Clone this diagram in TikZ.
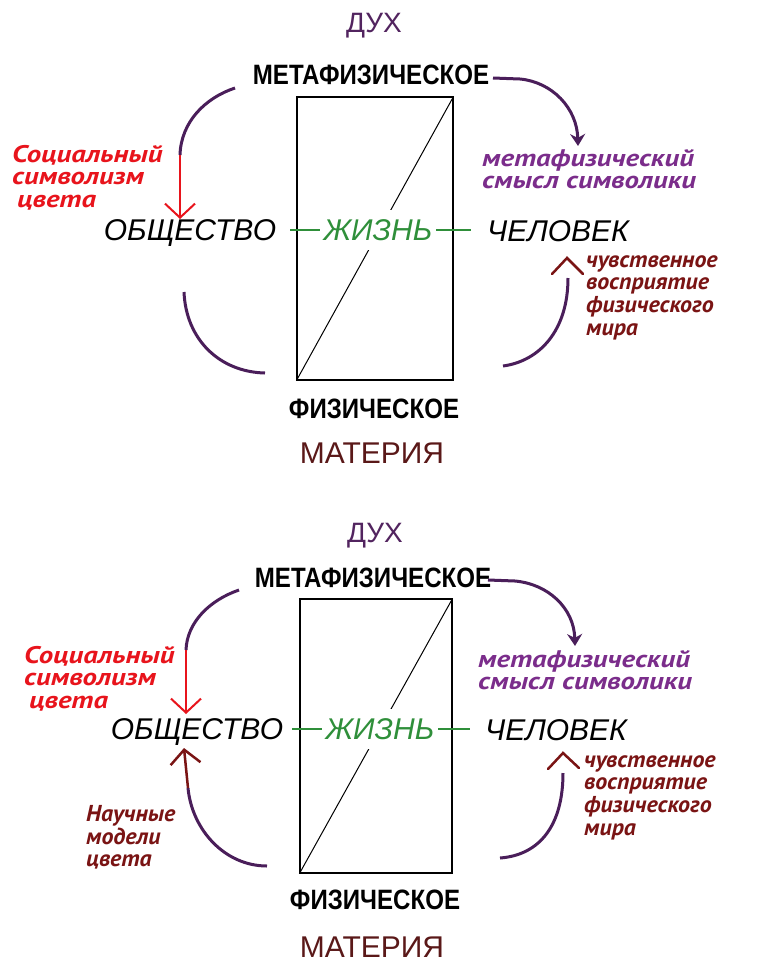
\documentclass[tikz,border=0pt]{standalone}
\usepackage{fontspec}
\setmainfont{Liberation Sans}
\newfontfamily\narrowfont[FakeStretch=0.86]{Liberation Sans}
\newfontfamily\wideitfont[FakeStretch=1.2]{PT Sans}
\newfontfamily\midtfont[FakeStretch=1.04]{PT Sans}
\usetikzlibrary{arrows.meta}
\definecolor{arcpurple}{HTML}{4A1E5A}
\definecolor{duhpurple}{HTML}{52245F}
\definecolor{metapurple}{HTML}{7B2D8B}
\definecolor{socred}{HTML}{E8141C}
\definecolor{darkred}{HTML}{7A1414}
\definecolor{matred}{HTML}{5A1818}
\definecolor{lifegreen}{HTML}{2F8F3A}
\tikzset{
  polelabel/.style={font=\narrowfont\bfseries\fontsize{28}{30}\selectfont, inner sep=0pt},
  duhlabel/.style={font=\fontsize{28}{30}\selectfont, text=duhpurple, inner sep=0pt},
  matlabel/.style={font=\fontsize{30}{32}\selectfont, text=matred, inner sep=0pt},
  bigit/.style={font=\itshape\fontsize{30}{32}\selectfont, inner sep=0pt},
  lifelabel/.style={font=\itshape\fontsize{30}{32}\selectfont, text=lifegreen, fill=white, inner xsep=4pt, minimum height=40pt},
  smalllab/.style={font=\wideitfont\bfseries\itshape\fontsize{24}{22.5}\selectfont, align=left, inner sep=0pt, anchor=north west},
  midlab/.style={font=\midtfont\bfseries\itshape\fontsize{23}{22.8}\selectfont, align=left, inner sep=0pt, anchor=north west},
  boxnode/.style={draw=black, line width=1.2pt},
  diagline/.style={draw=black, line width=1pt},
  greenline/.style={draw=lifegreen, line width=1.5pt},
  arcline/.style={draw=arcpurple, line width=3pt},
  arcarrow/.style={draw=arcpurple, line width=3pt, -{Stealth[length=12pt,width=15pt]}},
  redarrow/.style={draw=socred, line width=2pt, -{Straight Barb[length=14pt,width=30pt]}},
  darkarrow/.style={draw=darkred, line width=2.5pt, -{Straight Barb[length=14pt,width=30pt]}},
  caret/.style={draw=darkred, line width=2.5pt, line cap=round, line join=miter}
}
\begin{document}
\begin{tikzpicture}[x=1pt,y=-1pt]
\path[use as bounding box, fill=white] (0,0) rectangle (757,962);

% ================= TOP DIAGRAM =================
\node[duhlabel] (duh1) at (374,26) {ДУХ};
\node[polelabel] (meta1) at (371,75) {МЕТАФИЗИЧЕСКОЕ};
\node[boxnode, minimum width=156pt, minimum height=283pt, inner sep=0pt] (box1) at (375,238.5) {};
\draw[diagline] (box1.south west) -- (box1.north east);
\node[lifelabel] (jizn1) at (378,230) {ЖИЗНЬ};
\node[bigit] (obsh1) at (190,233) {ОБЩЕСТВО};
\node[bigit] (chel1) at (558,231) {ЧЕЛОВЕК};
\coordinate (gl1) at (290,230);
\coordinate (gr1) at (471,230);
\draw[greenline] (jizn1.west) -- (gl1);
\draw[greenline] (jizn1.east) -- (gr1);
\node[polelabel] (phys1) at (374,409) {ФИЗИЧЕСКОЕ};
\node[matlabel] (mat1) at (372,453) {МАТЕРИЯ};

% top-left: metaphysical -> society
\coordinate (la1s) at (235,88);
\coordinate (la1m) at (180,155);
\coordinate (la1e) at (180,219);
\draw[arcline] (la1s) .. controls (205,98) and (181,122) .. (la1m);
\draw[redarrow] (la1m) -- (la1e);
\node[smalllab, text=socred] (soc1) at (12,145) {Социальный\\символизм\\\hspace*{5pt}цвета};

% top-right: metaphysical -> meaning
\coordinate (ra1a) at (493,78);
\coordinate (ra1b) at (520,79);
\coordinate (ra1e) at (578,146);
\draw[arcarrow] (ra1a) -- (ra1b) .. controls (552,82) and (577,108) .. (ra1e);
\node[smalllab, text=metapurple] (mean1) at (482,149) {метафизический\\смысл символики};

% bottom-right: physical -> person
\coordinate (rb1s) at (503,366);
\coordinate (rb1e) at (568,278);
\draw[arcline] (rb1s) .. controls (540,361) and (568,330) .. (rb1e);
\coordinate (cl1) at (552,274);
\coordinate (ct1) at (567,258);
\coordinate (cr1) at (583,274);
\draw[caret] (cl1) -- (ct1) -- (cr1);
\node[midlab, text=darkred] (perc1) at (586,255) {чувственное\\восприятие\\физического\\мира};

% bottom-left arc
\coordinate (lb1s) at (184,292);
\coordinate (lb1e) at (265,373);
\draw[arcline] (lb1s) .. controls (186,340) and (220,372) .. (lb1e);

% ================= BOTTOM DIAGRAM =================
\node[duhlabel] (duh2) at (375,536) {ДУХ};
\node[polelabel] (meta2) at (373,578) {МЕТАФИЗИЧЕСКОЕ};
\node[boxnode, minimum width=152pt, minimum height=274pt, inner sep=0pt] (box2) at (376,736) {};
\draw[diagline] (box2.south west) -- (box2.north east);
\node[lifelabel] (jizn2) at (380,729) {ЖИЗНЬ};
\node[bigit] (obsh2) at (197,732) {ОБЩЕСТВО};
\node[bigit] (chel2) at (556,730) {ЧЕЛОВЕК};
\coordinate (gl2) at (292,729);
\coordinate (gr2) at (470,729);
\draw[greenline] (jizn2.west) -- (gl2);
\draw[greenline] (jizn2.east) -- (gr2);
\node[polelabel] (phys2) at (375,900) {ФИЗИЧЕСКОЕ};
\node[matlabel] (mat2) at (372,947) {МАТЕРИЯ};

% top-left
\coordinate (la2s) at (239,590);
\coordinate (la2m) at (186,650);
\coordinate (la2e) at (186,714);
\draw[arcline] (la2s) .. controls (210,600) and (187,622) .. (la2m);
\draw[redarrow] (la2m) -- (la2e);
\node[smalllab, text=socred] (soc2) at (24,646) {Социальный\\символизм\\\hspace*{5pt}цвета};

% top-right
\coordinate (ra2a) at (488,580);
\coordinate (ra2b) at (515,581);
\coordinate (ra2e) at (575,646);
\draw[arcarrow] (ra2a) -- (ra2b) .. controls (548,584) and (574,608) .. (ra2e);
\node[smalllab, text=metapurple] (mean2) at (478,650) {метафизический\\смысл символики};

% bottom-left: scientific models -> society
\coordinate (lb2s) at (267,866);
\coordinate (lb2m) at (188,788);
\coordinate (lb2e) at (184,748);
\draw[arcline] (lb2s) .. controls (225,866) and (192,830) .. (lb2m);
\draw[darkarrow] (lb2m) -- (lb2e);
\node[midlab, text=darkred] (sci2) at (86,805) {Научные\\модели\\цвета};

% bottom-right
\coordinate (rb2s) at (500,858);
\coordinate (rb2e) at (563,773);
\draw[arcline] (rb2s) .. controls (540,855) and (563,825) .. (rb2e);
\coordinate (cl2) at (548,769);
\coordinate (ct2) at (563,753);
\coordinate (cr2) at (579,768);
\draw[caret] (cl2) -- (ct2) -- (cr2);
\node[midlab, text=darkred] (perc2) at (584,755) {чувственное\\восприятие\\физического\\мира};

\end{tikzpicture}
\end{document}
